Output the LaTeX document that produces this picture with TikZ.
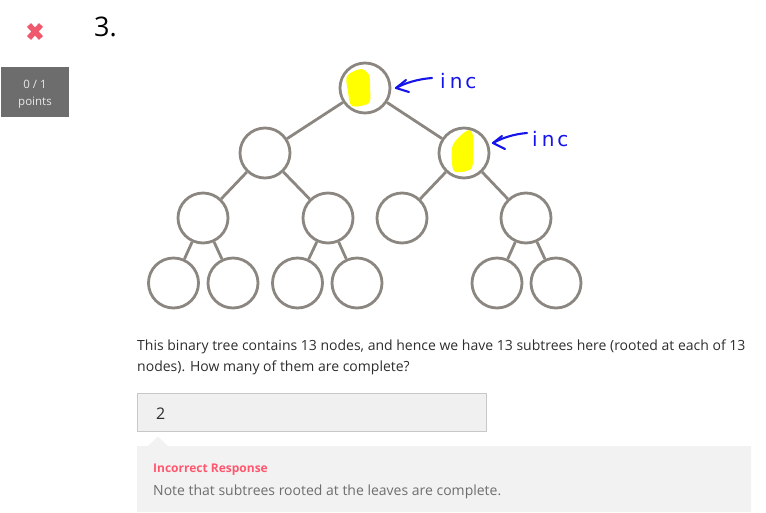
\documentclass[tikz,border=0pt]{standalone}
\usepackage{fontspec}
\setmainfont{Open Sans}
\newfontfamily\handfont{DejaVu Sans}
\definecolor{treegray}{RGB}{139,134,128}
\definecolor{xpink}{RGB}{240,88,110}
\definecolor{ptsbox}{RGB}{109,109,109}
\definecolor{ptstext}{RGB}{232,232,232}
\definecolor{bodytext}{RGB}{45,45,45}
\definecolor{ansfill}{RGB}{240,240,240}
\definecolor{ansline}{RGB}{200,200,200}
\definecolor{fbfill}{RGB}{242,242,242}
\definecolor{incred}{RGB}{255,88,110}
\definecolor{notetext}{RGB}{110,110,110}
\definecolor{penblue}{RGB}{20,20,235}
\definecolor{hiyellow}{RGB}{255,255,0}
\tikzset{
  tnode/.style={circle, draw=treegray, line width=2.8pt, minimum size=50pt, inner sep=0pt},
  tedge/.style={draw=treegray, line width=2.8pt},
  txt/.style={inner sep=0pt, anchor=base west},
  pen/.style={draw=penblue, line width=2.1pt, line cap=round, line join=round},
  pentext/.style={inner sep=0pt, anchor=base west, text=penblue, font=\handfont\fontsize{20pt}{20pt}\selectfont},
}
\begin{document}
\begin{tikzpicture}[x=1pt,y=-1pt]
\useasboundingbox (0,0) rectangle (766,512);
% header
\draw[xpink, line width=5.5pt] (29,25) -- (41,38) (41,25) -- (29,38);
\node[txt, text=black, font=\fontsize{27pt}{27pt}\selectfont] (num) at (94,36) {3.};
\fill[ptsbox] (1,67) rectangle (69,117);
\node[inner sep=0pt, anchor=base, text=ptstext, font=\fontsize{11.5pt}{11.5pt}\selectfont] (pts1) at (35,88) {0 / 1};
\node[inner sep=0pt, anchor=base, text=ptstext, font=\fontsize{11.5pt}{11.5pt}\selectfont] (pts2) at (35,105) {points};
% yellow highlights
\fill[hiyellow] plot[smooth cycle, tension=0.5] coordinates {(347,76) (361,69) (369,75) (370,88) (369,103) (352,106) (348,92)};
\fill[hiyellow] plot[smooth cycle, tension=0.5] coordinates {(469,130) (473,136) (473,155) (471,169) (454,171) (452,148) (459,137)};
% tree
\node[tnode] (r) at (365,88) {};
\node[tnode] (a) at (265,153) {};
\node[tnode] (b) at (464,153) {};
\node[tnode] (a1) at (203,218) {};
\node[tnode] (a2) at (328,218) {};
\node[tnode] (b1) at (402,218) {};
\node[tnode] (b2) at (526,218) {};
\node[tnode] (l1) at (173.5,283) {};
\node[tnode] (l2) at (233,283) {};
\node[tnode] (l3) at (297.5,283) {};
\node[tnode] (l4) at (357,283) {};
\node[tnode] (l5) at (497,283) {};
\node[tnode] (l6) at (556,283) {};
\path[tedge] (r) -- (a) (r) -- (b) (a) -- (a1) (a) -- (a2) (b) -- (b1) (b) -- (b2)
  (a1) -- (l1) (a1) -- (l2) (a2) -- (l3) (a2) -- (l4) (b2) -- (l5) (b2) -- (l6);
% annotations
\coordinate (t1) at (396,88);
\coordinate (e1) at (432,78);
\draw[pen] (e1) .. controls (418,79) and (405,83) .. (t1);
\draw[pen] (406,80) -- (t1) -- (409,92);
\node[pentext] (inc1) at (440,88) {i\kern4pt n\kern3pt c};
\coordinate (t2) at (493,143);
\coordinate (e2) at (527,133);
\draw[pen] (e2) .. controls (514,134) and (502,138) .. (t2);
\draw[pen] (502,136) -- (t2) -- (505,149);
\node[pentext] (inc2) at (532,146) {i\kern4pt n\kern3pt c};
% question
\node[txt, text=bodytext, font=\fontsize{14pt}{14pt}\selectfont] (q1) at (137,350) {This binary tree contains 13 nodes, and hence we have 13 subtrees here (rooted at each of 13};
\node[txt, text=bodytext, font=\fontsize{14pt}{14pt}\selectfont] (q2) at (137,371.5) {nodes). How many of them are complete?};
% answer box
\draw[fill=ansfill, draw=ansline, line width=1pt] (137.5,393.5) rectangle (486.5,431.5);
\node[txt, text=bodytext, font=\fontsize{16pt}{16pt}\selectfont] (ans) at (156,419) {2};
% feedback
\fill[fbfill] (137,446) -- (148,446) -- (158,436.5) -- (168,446) -- (751,446) -- (751,512) -- (137,512) -- cycle;
\node[txt, text=incred, font=\bfseries\fontsize{12pt}{12pt}\selectfont] (inc) at (153,472) {Incorrect Response};
\node[txt, text=notetext, font=\fontsize{14pt}{14pt}\selectfont] (note) at (153,495) {Note that subtrees rooted at the leaves are complete.};
\end{tikzpicture}
\end{document}
